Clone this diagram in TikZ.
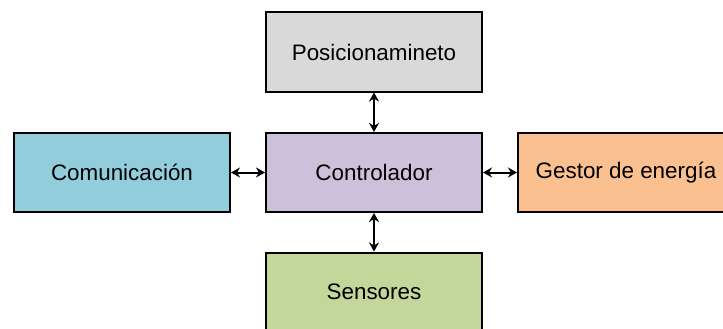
\documentclass[tikz,border=0pt]{standalone}
\usepackage{fontspec}
\setmainfont{Liberation Sans}
\usetikzlibrary{arrows.meta}
\definecolor{cgray}{HTML}{D9D9D9}
\definecolor{cpurple}{HTML}{CCC0DA}
\definecolor{cblue}{HTML}{92CDDC}
\definecolor{corange}{HTML}{FAC090}
\definecolor{cgreen}{HTML}{C4D79B}
\begin{document}
\begin{tikzpicture}[x=1pt,y=-1pt,
  blockbox/.style={draw=black,line width=2pt,minimum width=216pt,minimum height=79pt,inner sep=0pt,font=\fontsize{22.4}{26}\selectfont},
  link/.style={line width=2pt,{Stealth[length=9pt,width=10pt]}-{Stealth[length=9pt,width=10pt]}}]
\useasboundingbox (0,0) rectangle (723,329);
\clip (0,0) rectangle (723,329);
\node[blockbox,fill=cgray] (pos) at (374,52) {Posicionamineto};
\node[blockbox,fill=cpurple] (ctrl) at (374,172.5) {Controlador};
\node[blockbox,fill=cblue] (com) at (122,172.5) {Comunicación};
\node[blockbox,fill=corange] (ges) at (626,172.5) {Gestor de energía};
\node[blockbox,fill=cgreen] (sen) at (374,292) {Sensores};
\draw[link] (pos.south) -- (ctrl.north);
\draw[link] (ctrl.south) -- (sen.north);
\draw[link] (com.east) -- (ctrl.west);
\draw[link] (ctrl.east) -- (ges.west);
\end{tikzpicture}
\end{document}
